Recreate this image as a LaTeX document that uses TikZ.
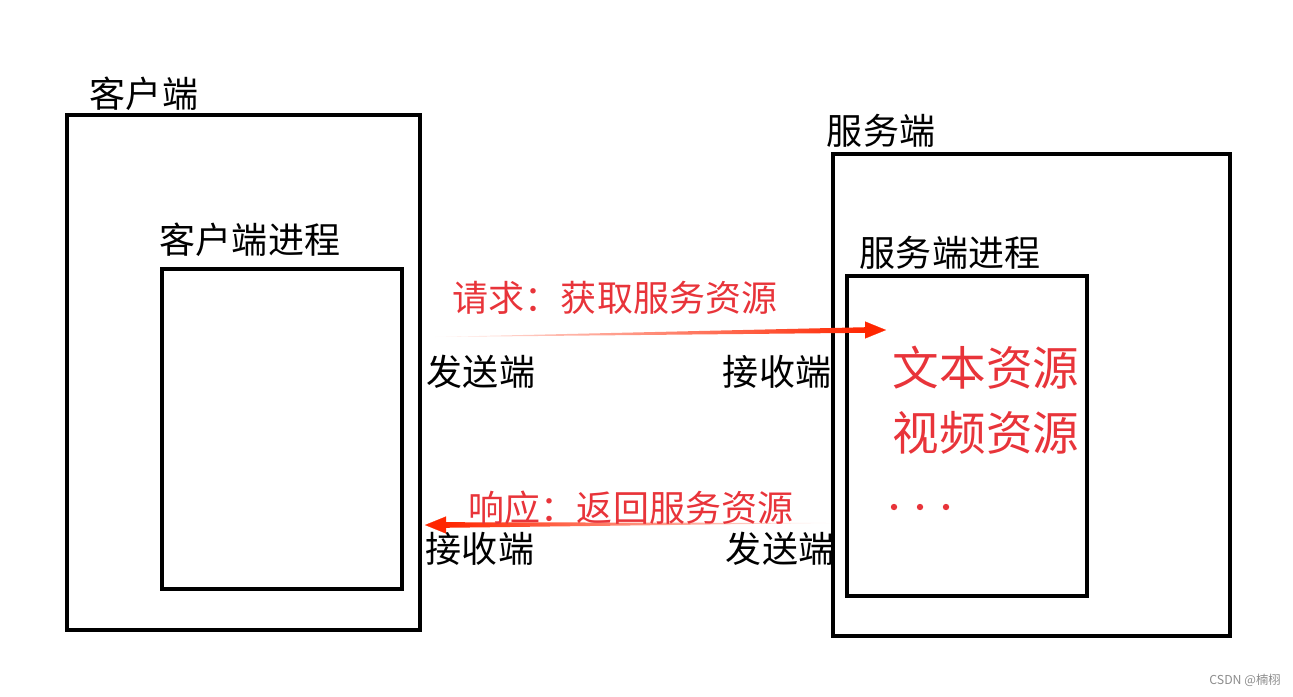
\documentclass[tikz,border=0pt]{standalone}
\usepackage{fontspec}
\usepackage{tikz}
\usetikzlibrary{arrows.meta,positioning,calc}
\newfontfamily\cjk{Noto Sans CJK SC}
\definecolor{reqred}{RGB}{255,38,0}
\definecolor{txtred}{RGB}{232,52,58}

\begin{document}
\begin{tikzpicture}[
    x=0.02cm, y=-0.02cm,
    box/.style={draw, line width=1.8pt},
    lbl/.style={font=\cjk\fontsize{20.5}{24}\selectfont, inner sep=0pt},
    redlbl/.style={lbl, text=txtred},
    res/.style={font=\cjk\fontsize{26.5}{30}\selectfont, text=txtred, inner sep=0pt},
    head/.style={reqred, line width=0.1pt, -{Triangle[length=0.42cm, width=0.34cm]}}
]
\useasboundingbox (0,0) rectangle (1293,696);

% Client side
\draw[box] (67,115) rectangle (420,630);
\node[lbl] (client) at (144,94) {客户端};
\draw[box] (162,269) rectangle (402,589);
\node[lbl] (cproc) at (250,240) {客户端进程};

% Server side
\draw[box] (833,154) rectangle (1230,636);
\node[lbl] (server) at (881,131) {服务端};
\draw[box] (847,276) rectangle (1087,596);
\node[lbl] (sproc) at (950,253) {服务端进程};

% Ends
\node[lbl] (csend) at (481,372) {发送端};
\node[lbl] (srecv) at (777,372) {接收端};
\node[lbl] (crecv) at (480,549) {接收端};
\node[lbl] (ssend) at (780,549) {发送端};

% Request
\coordinate (reqS) at (435,337);
\coordinate (reqE) at (886,330);
\shade[left color=reqred!5, middle color=reqred!95, right color=reqred] (reqS) -- ($(reqE)+(-20,-2.8)$) -- ($(reqE)+(-20,2.8)$) -- cycle;
\draw[head] ($(reqE)+(-22,0)$) -- (reqE);
\node[redlbl] (req) at (615,298) {请求：获取服务资源};

% Response
\coordinate (resS) at (830,523);
\coordinate (resE) at (425,525);
\shade[left color=reqred, middle color=reqred!95, right color=reqred!5] ($(resE)+(20,-2.8)$) -- (resS) -- ($(resE)+(20,2.8)$) -- cycle;
\draw[head] ($(resE)+(22,0)$) -- (resE);
\node[redlbl] (resp) at (631,508) {响应：返回服务资源};

% Resources
\node[res] (text) at (986,368) {文本资源};
\node[res] (video) at (986,433) {视频资源};
\foreach \x in {894,920,946}
    \fill[txtred] (\x,507) circle (3.2);

\node[font=\cjk\fontsize{7}{8}\selectfont, text=black!45, inner sep=0pt] (mark) at (1245,680) {CSDN @楠栩};
\end{tikzpicture}
\end{document}
